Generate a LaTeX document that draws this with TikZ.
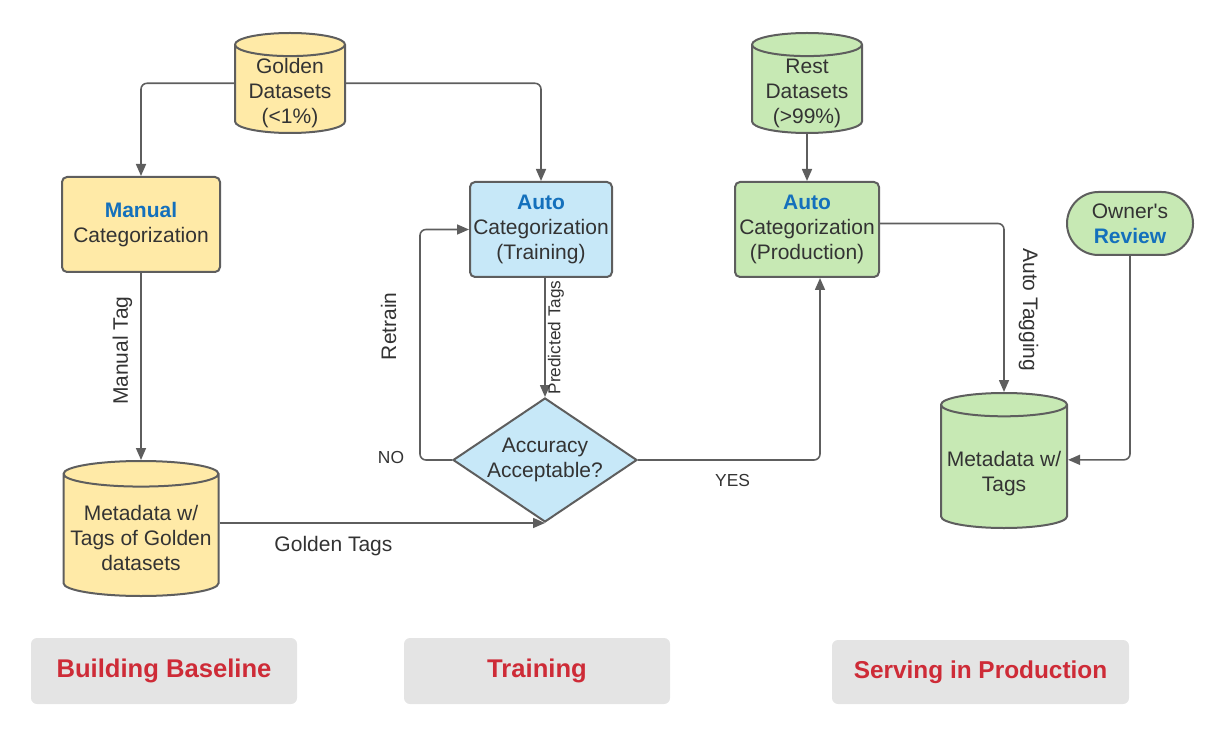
\documentclass[tikz,border=0pt]{standalone}
\usepackage{fontspec}
\setmainfont{Liberation Sans}
\usetikzlibrary{positioning,arrows.meta,calc,shapes.geometric}
\definecolor{ink}{RGB}{51,51,51}
\definecolor{edge}{RGB}{94,94,94}
\definecolor{goldfill}{RGB}{255,234,167}
\definecolor{skyfill}{RGB}{199,232,248}
\definecolor{leaffill}{RGB}{199,233,180}
\definecolor{keyblue}{RGB}{20,112,188}
\definecolor{phasered}{RGB}{206,43,55}
\definecolor{phasegray}{RGB}{228,228,228}
\newcommand{\keyword}[1]{\textcolor{keyblue}{\bfseries #1}}

\begin{document}
\begin{tikzpicture}[x=0.5pt,y=-0.5pt,
    txt/.style={font=\fontsize{10.5}{12.5}\selectfont,text=ink},
    box/.style={txt,draw=edge,line width=1pt,rounded corners=2.5pt,align=center,inner sep=0pt},
    db/.style={cylinder,shape border rotate=90,draw=edge,line width=1pt,inner sep=0pt,anchor=north,
      minimum width=#1,text width=#1},
    dbtext/.style={txt,align=center,anchor=center,inner sep=0pt},
    flow/.style={draw=edge,line width=0.8pt,rounded corners=3pt,-{Triangle[length=6pt,width=5pt]}},
    tag/.style={txt,inner sep=1pt},
    phase/.style={fill=phasegray,rounded corners=3pt,inner sep=0pt,font=\fontsize{12.8}{14}\selectfont\bfseries,text=phasered}]
  \useasboundingbox (0,0) rectangle (1224,737);

  % building baseline
  \node[db=55pt,fill=goldfill,aspect=0.21,minimum height=50pt,
    label={[dbtext,yshift=-30.5pt]north:{Golden\\Datasets\\(<1\%)}}] (golden) at (290,32) {};
  \node[box,fill=goldfill,minimum width=79pt,minimum height=47.5pt] (manual) at (141,224.5) {\keyword{Manual}\\Categorization};
  \node[db=77.5pt,fill=goldfill,aspect=0.165,minimum height=67.5pt,
    label={[dbtext,yshift=-38.75pt]north:{Metadata w/\\Tags of Golden\\datasets}}] (mdgold) at (141,460) {};

  % training
  \node[box,fill=skyfill,minimum width=71pt,minimum height=47.5pt] (train) at (541,229.5) {\keyword{Auto}\\Categorization\\(Training)};
  \node[txt,diamond,aspect=1.48,draw=edge,line width=1pt,fill=skyfill,align=center,inner sep=0pt,
    minimum width=92pt,minimum height=62pt] (acc) at (545,460) {Accuracy\\Acceptable?};

  % serving in production
  \node[db=55pt,fill=leaffill,aspect=0.21,minimum height=50pt,
    label={[dbtext,yshift=-30.5pt]north:{Rest\\Datasets\\(>99\%)}}] (rest) at (807,32) {};
  \node[box,fill=leaffill,minimum width=72pt,minimum height=47.5pt] (prod) at (807,229.5) {\keyword{Auto}\\Categorization\\(Production)};
  \node[box,fill=leaffill,rounded corners=15.7pt,minimum width=63pt,minimum height=31.5pt] (review) at (1130,223.5) {Owner\textquotesingle s\\\keyword{Review}};
  \node[db=63pt,fill=leaffill,aspect=0.185,minimum height=67.5pt,
    label={[dbtext,yshift=-41pt]north:{Metadata w/\\Tags}}] (mdtags) at (1004,392) {};

  % connectors
  \draw[flow] ([yshift=3pt]golden.west) -| (manual.north);
  \draw[flow] ([yshift=3pt]golden.east) -| (train.north);
  \draw[flow] (manual.south) -- (mdgold.north)
    node[tag,pos=0.415,left=3pt,rotate=90,anchor=south] {Manual Tag};
  \draw[flow] (mdgold.east |- acc.south) -- (acc.south)
    node[tag,pos=0.35,below=5pt] {Golden Tags};
  \draw[flow] (acc.north |- train.south) -- (acc.north)
    node[tag,midway,rotate=90,anchor=north,font=\fontsize{8.6}{10}\selectfont] {Predicted Tags};
  \draw[flow] (acc.west) -- ++(-32,0) |- (train.west)
    node[tag,pos=0.29,rotate=90,anchor=south,yshift=10.5pt] {Retrain};
  \node[tag,font=\fontsize{8.7}{10}\selectfont] (no) at (391,458) {NO};
  \draw[flow] (acc.east) -| ($(prod.south)+(13,0)$)
    node[tag,pos=0.26,below=6pt,font=\fontsize{8.7}{10}\selectfont] {YES};
  \draw[flow] (rest.south) -- (prod.north);
  \draw[flow] ([yshift=3pt]prod.east) -| (mdtags.north)
    node[tag,pos=0.756,rotate=-90,anchor=south,yshift=6pt] {Auto Tagging};
  \draw[flow] (review.south) |- ([yshift=3.5pt]mdtags.east);

  % phases
  \node[phase,minimum width=133pt,minimum height=33pt] (base) at (164,671) {Building Baseline};
  \node[phase,minimum width=133pt,minimum height=33pt] (fit) at (537,671) {Training};
  \node[phase,minimum width=148.5pt,minimum height=32pt,font=\fontsize{12.2}{14}\selectfont\bfseries] (serve) at (980.5,672) {Serving in Production};
\end{tikzpicture}
\end{document}
